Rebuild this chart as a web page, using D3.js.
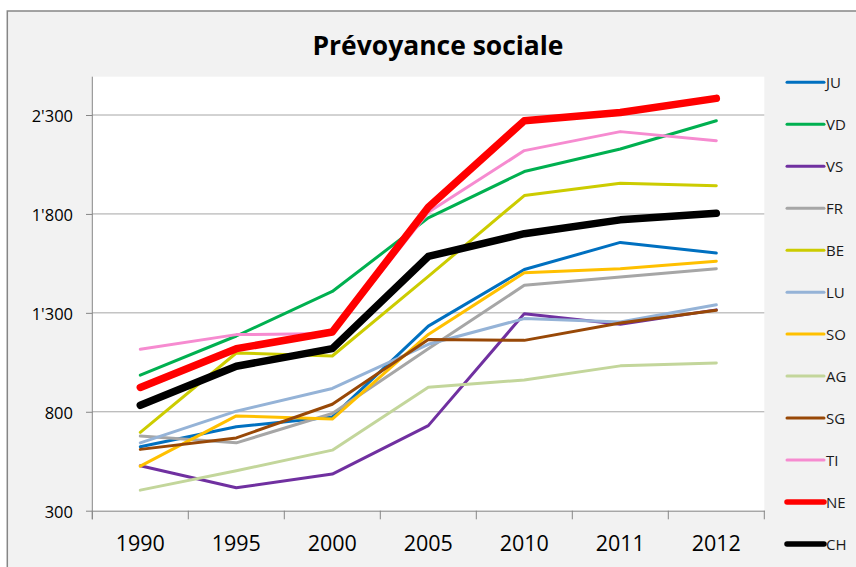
<!DOCTYPE html>
<html>
<head>
<meta charset="utf-8">
<script src="https://cdn.jsdelivr.net/npm/d3@7"></script>
<style>
  html, body { margin: 0; padding: 0; background: #ffffff; }
  svg { display: block; }
</style>
</head>
<body>
<script>
// ---------- DATA ----------
const years = ["1990", "1995", "2000", "2005", "2010", "2011", "2012"];
const seriesNames = ["JU", "VD", "VS", "FR", "BE", "LU", "SO", "AG", "SG", "TI", "NE", "CH"];
const JU = [623, 724, 774, 1233, 1519, 1656, 1602];
const VD = [985, 1183, 1408, 1780, 2014, 2128, 2271];
const VS = [527, 416, 485, 730, 1296, 1242, 1315];
const FR = [677, 643, 791, 1119, 1439, 1481, 1523];
const BE = [696, 1097, 1082, 1484, 1893, 1955, 1943];
const LU = [643, 803, 918, 1141, 1271, 1254, 1341];
const SO = [525, 779, 763, 1191, 1503, 1523, 1561];
const AG = [404, 502, 606, 924, 961, 1032, 1047];
const SG = [610, 668, 838, 1165, 1161, 1249, 1313];
const TI = [1116, 1190, 1195, 1808, 2120, 2216, 2170];
const NE = [923, 1119, 1203, 1834, 2271, 2313, 2384];
const CH = [833, 1030, 1119, 1585, 1700, 1770, 1803];
const yTicks = [300, 800, 1300, 1800, 2300];
const title = "Prévoyance sociale";

// ---------- STYLE ----------
const colors = {
  JU: "#0070C0", VD: "#00B050", VS: "#7030A0", FR: "#A6A6A6", BE: "#CCCC00",
  LU: "#95B3D7", SO: "#FFC000", AG: "#C3D69B", SG: "#984807", TI: "#F68BD0",
  NE: "#FF0000", CH: "#000000"
};
const widths = { NE: 7.5, CH: 7.5 };
const legendWidths = { NE: 5.5, CH: 5.5 };
const valuesBy = { JU, VD, VS, FR, BE, LU, SO, AG, SG, TI, NE, CH };

const W = 856, H = 567;
const plot = { left: 92.3, right: 764.3, top: 76.7, bottom: 510.7 };

const svg = d3.select("body").append("svg").attr("width", W).attr("height", H);

// chart frame
svg.append("rect")
  .attr("x", 7.3).attr("y", 11)
  .attr("width", 870).attr("height", 580)
  .attr("fill", "#f2f2f2")
  .attr("stroke", "#868686").attr("stroke-width", 1.5);

// plot area
svg.append("rect")
  .attr("x", plot.left).attr("y", plot.top)
  .attr("width", plot.right - plot.left).attr("height", plot.bottom - plot.top)
  .attr("fill", "#ffffff");

// scales
const x = d3.scaleBand().domain(years).range([plot.left, plot.right]).padding(0);
const y = d3.scaleLinear().domain([300, 2500]).range([plot.bottom, plot.bottom - 2200 * (395.7 / 2000)]);

const fmt = d3.formatLocale({ decimal: ".", thousands: "'", grouping: [3], currency: ["", ""] }).format(",d");

// gridlines
svg.append("g").selectAll("line").data(yTicks.slice(1)).join("line")
  .attr("x1", plot.left).attr("x2", plot.right)
  .attr("y1", d => y(d)).attr("y2", d => y(d))
  .attr("stroke", "#a6a6a6").attr("stroke-width", 1);

// y axis
const yAxis = svg.append("g")
  .attr("transform", `translate(${plot.left},0)`)
  .call(d3.axisLeft(y).tickValues(yTicks).tickFormat(fmt).tickSize(6.3).tickPadding(13).tickSizeOuter(0));
yAxis.select(".domain").remove();
yAxis.selectAll(".tick line").attr("stroke", "#868686");
yAxis.selectAll(".tick text")
  .attr("font-family", "'Open Sans', sans-serif").attr("font-size", 16.5)
  .attr("fill", "#000").attr("dy", null).attr("dominant-baseline", "central");
svg.append("line")
  .attr("x1", plot.left).attr("x2", plot.left)
  .attr("y1", plot.top).attr("y2", plot.bottom + 8.6)
  .attr("stroke", "#868686").attr("stroke-width", 1);

// x axis (labels at band centres)
const xAxis = svg.append("g")
  .attr("transform", `translate(0,${plot.bottom})`)
  .call(d3.axisBottom(x).tickSize(0).tickPadding(0).tickSizeOuter(0));
xAxis.select(".domain").attr("stroke", "#868686");
xAxis.selectAll(".tick text")
  .attr("font-family", "'Open Sans', sans-serif").attr("font-size", 21.5)
  .attr("fill", "#000").attr("dy", null).attr("y", 40);
// tick marks between categories
const boundaries = years.map(d => x(d)).concat([plot.right]);
svg.append("g").selectAll("line").data(boundaries).join("line")
  .attr("x1", d => d).attr("x2", d => d)
  .attr("y1", plot.bottom).attr("y2", plot.bottom + 8.6)
  .attr("stroke", "#868686").attr("stroke-width", 1);

// lines
const line = d3.line()
  .x((d, i) => x(years[i]) + x.bandwidth() / 2)
  .y(d => y(d));
svg.append("g").selectAll("path").data(seriesNames).join("path")
  .attr("d", s => line(valuesBy[s]))
  .attr("fill", "none")
  .attr("stroke", s => colors[s])
  .attr("stroke-width", s => widths[s] || 3)
  .attr("stroke-linejoin", "round")
  .attr("stroke-linecap", "round");

// legend
const leg = svg.append("g").selectAll("g").data(seriesNames).join("g")
  .attr("transform", (s, i) => `translate(0,${82.3 + i * 41.97})`);
leg.append("line")
  .attr("x1", 787).attr("x2", 824).attr("y1", 0).attr("y2", 0)
  .attr("stroke", s => colors[s])
  .attr("stroke-width", s => legendWidths[s] || 3)
  .attr("stroke-linecap", "round");
leg.append("text")
  .attr("x", 826).attr("y", 0)
  .attr("dominant-baseline", "central")
  .attr("font-family", "'Open Sans', sans-serif").attr("font-size", 15)
  .attr("fill", "#1a1a1a")
  .text(s => s);

// title
svg.append("text")
  .attr("x", 438).attr("y", 55)
  .attr("text-anchor", "middle")
  .attr("font-family", "'Open Sans', sans-serif").attr("font-weight", "bold")
  .attr("font-size", 27)
  .attr("textLength", 251).attr("lengthAdjust", "spacingAndGlyphs")
  .attr("fill", "#000")
  .text(title);
</script>
</body>
</html>
